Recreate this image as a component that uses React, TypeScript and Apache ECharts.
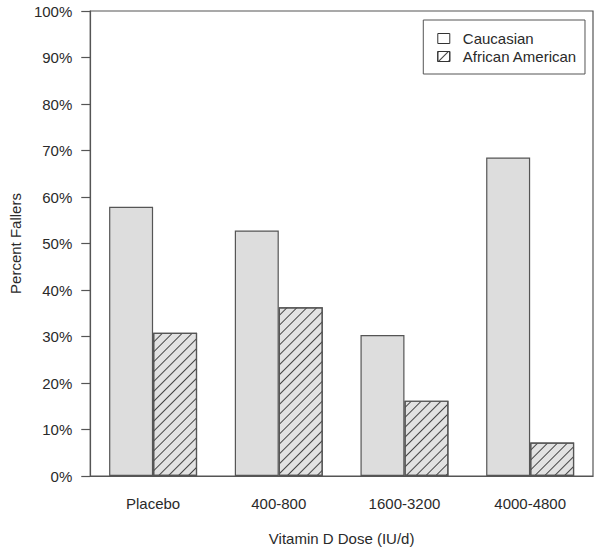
import React, { useEffect, useRef } from "react";
import * as echarts from "echarts";

const categories = ["Placebo", "400-800", "1600-3200", "4000-4800"];
const caucasian = [57.9, 52.8, 30.3, 68.5];
const africanAmerican = [30.8, 36.3, 16.2, 7.2];
const yTicks = [0, 10, 20, 30, 40, 50, 60, 70, 80, 90, 100];

const FONT = "'Liberation Sans', Arial, Helvetica, sans-serif";
const TEXT = "#2a2a2a";
const LINE = "#555555";

const hatch = {
  symbol: "rect",
  symbolSize: 1,
  color: "#444444",
  backgroundColor: "#e2e2e2",
  dashArrayX: [1, 0],
  dashArrayY: [1, 6],
  rotation: -Math.PI / 4,
};

export default function App() {
  const ref = useRef<HTMLDivElement>(null);
  useEffect(() => {
    if (!ref.current) return;
    const chart = echarts.init(ref.current, null, { renderer: "svg" });
    chart.setOption({
      animation: false,
      backgroundColor: "#ffffff",
      textStyle: { fontFamily: FONT, color: TEXT },
      grid: {
        left: 74,
        right: 7,
        top: 11,
        bottom: 77,
        show: true,
        borderColor: LINE,
        borderWidth: 1.2,
        backgroundColor: "transparent",
      },
      legend: {
        right: 15,
        top: 20,
        orient: "vertical",
        itemWidth: 12,
        itemHeight: 10,
        itemGap: 3,
        borderColor: LINE,
        borderWidth: 1,
        padding: [11, 8, 10, 14],
        icon: "rect",
        textStyle: { fontFamily: FONT, fontSize: 15, color: TEXT, padding: [0, 0, 0, 8] },
        data: [
          { name: "Caucasian", itemStyle: { color: "#ffffff", borderColor: "#333", borderWidth: 1 } },
          { name: "African American", itemStyle: { color: "#ffffff", borderColor: "#333", borderWidth: 1 } },
        ],
      },
      xAxis: {
        type: "category",
        data: categories,
        name: "Vitamin D Dose (IU/d)",
        nameLocation: "middle",
        nameGap: 55,
        nameTextStyle: { fontFamily: FONT, fontSize: 15, color: TEXT },
        axisLine: { show: true, lineStyle: { color: LINE, width: 1.2 } },
        axisTick: { show: false },
        axisLabel: { fontFamily: FONT, fontSize: 15, color: TEXT, margin: 20 },
        splitLine: { show: false },
      },
      yAxis: {
        type: "value",
        min: 0,
        max: 100,
        interval: 10,
        name: "Percent Fallers",
        nameLocation: "middle",
        nameGap: 54,
        nameTextStyle: { fontFamily: FONT, fontSize: 15, color: TEXT },
        axisLine: { show: true, lineStyle: { color: LINE, width: 1.2 } },
        axisTick: { show: true, inside: false, length: 9, lineStyle: { color: LINE, width: 1.2 } },
        axisLabel: {
          fontFamily: FONT,
          fontSize: 15,
          color: TEXT,
          margin: 18,
          formatter: (v: number) => (yTicks.includes(v) ? v + "%" : ""),
        },
        splitLine: { show: false },
      },
      series: [
        {
          name: "Caucasian",
          type: "bar",
          data: caucasian,
          barWidth: 44,
          barGap: "0%",
          itemStyle: { color: "#dddddd", borderColor: LINE, borderWidth: 1.2 },
        },
        {
          name: "African American",
          type: "bar",
          data: africanAmerican,
          barWidth: 44,
          barGap: "0%",
          itemStyle: {
            color: "#e2e2e2",
            borderColor: LINE,
            borderWidth: 1.2,
            decal: hatch,
          },
        },
      ],
    });
    return () => chart.dispose();
  }, []);
  return (
    <div
      ref={ref}
      style={{ position: "absolute", left: 0, top: 0, width: 600, height: 553 }}
    />
  );
}
